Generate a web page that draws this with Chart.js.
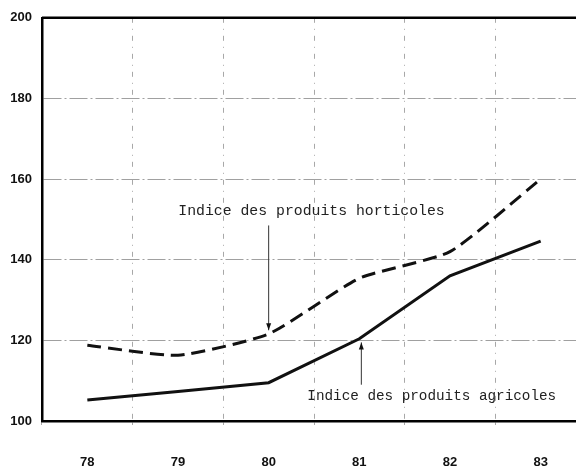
<!DOCTYPE html>
<html>
<head>
<meta charset="utf-8">
<script src="https://cdn.jsdelivr.net/npm/chart.js@4/dist/chart.umd.min.js"></script>
<style>
  html, body { margin: 0; padding: 0; background: #fff; overflow: hidden; }
  #wrap { width: 586px; height: 476px; }
</style>
</head>
<body>
<div id="wrap"><canvas id="chart" width="586" height="476"></canvas></div>
<script>
/* --- Data --- */
const years = ['78', '79', '80', '81', '82', '83'];
const horticoles = [118.8, 116.3, 121.6, 135.4, 142, 160];
const agricoles = [105.2, 107.3, 109.5, 120.4, 136, 144.6];
const yTicks = [100, 120, 140, 160, 180, 200];

const labelHorti = 'Indice des produits horticoles';
const labelAgri = 'Indice des produits agricoles';

/* --- Annotation plugin: labels, arrows, top frame line --- */
const annotations = {
    id: 'annotations',
    afterDatasetsDraw(chart) {
        const { ctx, chartArea, scales: { x, y } } = chart;
        ctx.save();

        // heavy frame line along the 200 gridline
        ctx.strokeStyle = '#000';
        ctx.lineWidth = 2.5;
        ctx.beginPath();
        ctx.moveTo(chartArea.left, chartArea.top);
        ctx.lineTo(chartArea.right, chartArea.top);
        ctx.stroke();

        ctx.font = '14.8px "Liberation Mono", monospace';
        ctx.fillStyle = '#222';
        ctx.textBaseline = 'middle';

        // horticoles label + downward arrow at 80
        ctx.textAlign = 'left';
        ctx.fillText(labelHorti, x.getPixelForValue(0) + 91, y.getPixelForValue(152));
        const ax = x.getPixelForValue(2);
        drawArrow(ctx, ax, y.getPixelForValue(148.5), y.getPixelForValue(122.5));

        // agricoles label + upward arrow at 81
        ctx.font = '14.3px "Liberation Mono", monospace';
        ctx.fillText(labelAgri, x.getPixelForValue(3) - 52, y.getPixelForValue(106.2));
        const bx = x.getPixelForValue(3) + 2;
        drawArrow(ctx, bx, y.getPixelForValue(109), y.getPixelForValue(119.5));

        ctx.restore();
    }
};

function drawArrow(ctx, px, fromY, toY) {
    ctx.strokeStyle = '#333';
    ctx.lineWidth = 1;
    ctx.beginPath();
    ctx.moveTo(px, fromY);
    ctx.lineTo(px, toY);
    ctx.stroke();
    const dir = toY > fromY ? 1 : -1;
    ctx.fillStyle = '#111';
    ctx.beginPath();
    ctx.moveTo(px, toY);
    ctx.lineTo(px - 2.5, toY - dir * 7);
    ctx.lineTo(px + 2.5, toY - dir * 7);
    ctx.closePath();
    ctx.fill();
    ctx.fillStyle = '#222';
}

/* --- Chart --- */
const tickFont = { family: '"Liberation Sans", Arial, sans-serif', size: 13, weight: 'bold' };

new Chart(document.getElementById('chart').getContext('2d'), {
    type: 'line',
    data: {
        labels: years,
        datasets: [
            {
                label: labelHorti,
                data: horticoles,
                borderColor: '#111',
                borderWidth: 3,
                borderDash: [14, 7],
                tension: 0.18,
                pointRadius: 0,
                fill: false
            },
            {
                label: labelAgri,
                data: agricoles,
                borderColor: '#111',
                borderWidth: 3,
                tension: 0,
                pointRadius: 0,
                fill: false
            }
        ]
    },
    options: {
        responsive: false,
        animation: false,
        layout: { padding: { left: 0, right: 0, top: 13, bottom: 0 } },
        plugins: {
            legend: { display: false },
            tooltip: { enabled: false }
        },
        scales: {
            x: {
                type: 'category',
                offset: true,
                grid: {
                    offset: true,
                    color: '#a8a8a8',
                    lineWidth: 1,
                    drawTicks: true,
                    tickLength: 4
                },
                border: { display: true, color: '#000', width: 2.5, dash: [5, 6, 1, 6] },
                ticks: {
                    color: '#111',
                    font: tickFont,
                    padding: 30
                },
                afterFit(scale) { scale.height = 55; }
            },
            y: {
                min: 100,
                max: 200,
                afterBuildTicks(scale) { scale.ticks = yTicks.map(v => ({ value: v })); },
                grid: {
                    color: '#a0a0a0',
                    lineWidth: 1,
                    drawTicks: false
                },
                border: { display: true, color: '#000', width: 2.5, dash: [18, 3, 2, 3] },
                ticks: {
                    color: '#111',
                    font: tickFont,
                    padding: 10
                },
                afterFit(scale) { scale.width = 42; }
            }
        }
    },
    plugins: [annotations]
});
</script>
</body>
</html>
